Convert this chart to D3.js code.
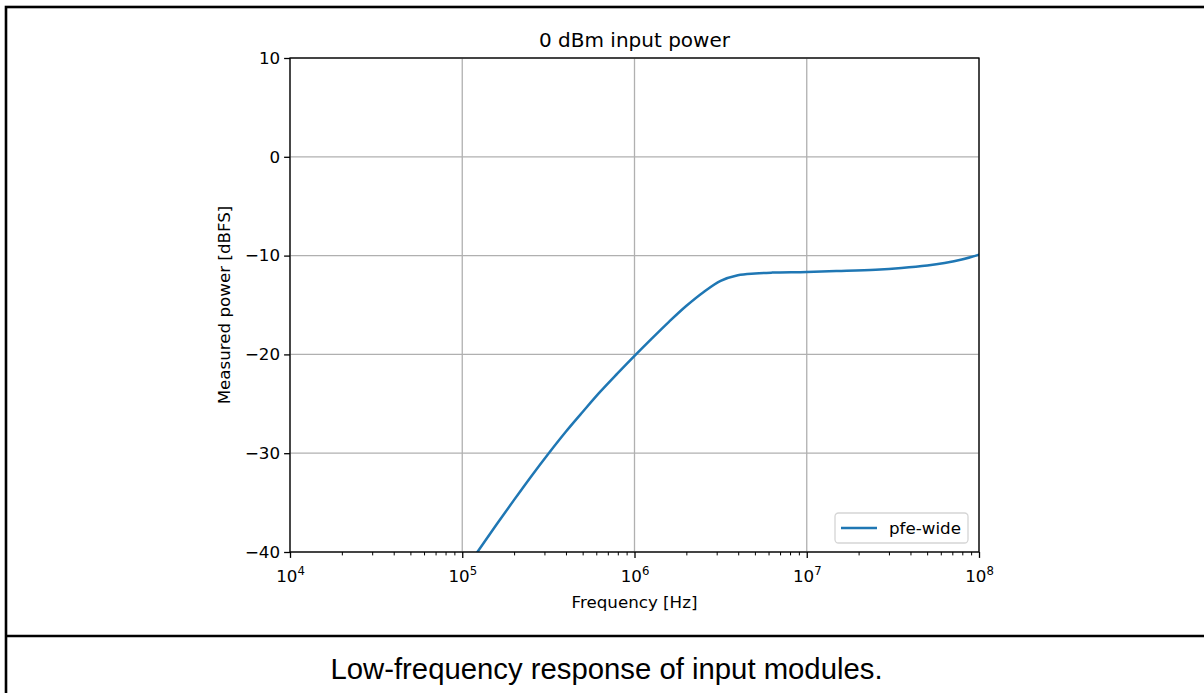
<!DOCTYPE html>
<html>
<head>
<meta charset="utf-8">
<script src="https://cdn.jsdelivr.net/npm/d3@7"></script>
<style>
  html, body { margin: 0; padding: 0; background: #fff; }
  svg { display: block; }
  text { font-family: "DejaVu Sans", sans-serif; fill: #000; }
</style>
</head>
<body>
<svg id="chart" width="1204" height="693"></svg>
<script>
// ---- data ----
const freqHz = [1.122e5, 1.259e5, 1.585e5, 1.995e5, 2.512e5, 3.162e5, 3.981e5, 5.012e5, 6.310e5, 7.943e5,
                1.0e6, 1.259e6, 1.585e6, 1.995e6, 2.512e6, 3.162e6, 3.981e6, 5.012e6, 6.310e6,
                1.0e7, 1.585e7, 2.512e7, 3.548e7, 5.012e7, 6.310e7, 7.943e7, 1.0e8];
const powerDb = [-40.95, -39.7, -37.2, -34.75, -32.35, -30.05, -27.85, -25.8, -23.8, -21.95,
                 -20.15, -18.4, -16.7, -15.1, -13.7, -12.55, -11.98, -11.8, -11.72,
                 -11.65, -11.55, -11.42, -11.25, -11.0, -10.75, -10.4, -9.9];
const seriesName = "pfe-wide";
const xTickExponents = [4, 5, 6, 7, 8];
const yTickValues = [-40, -30, -20, -10, 0, 10];
const titleText = "0 dBm input power";
const xLabelText = "Frequency [Hz]";
const yLabelText = "Measured power [dBFS]";
const captionText = "Low-frequency response of input modules.";

// ---- layout ----
const svg = d3.select("#chart");
const L = 290, R = 979, T = 58, B = 552;
const x = d3.scaleLog().domain([1e4, 1e8]).range([L, R]);
const y = d3.scaleLinear().domain([-40, 10]).range([B, T]);
const lineColor = "#1f77b4";
const fs = 16.7;

// frame
svg.append("rect").attr("x", 6).attr("y", 7).attr("width", 1220).attr("height", 720)
  .attr("fill", "none").attr("stroke", "#000").attr("stroke-width", 2.6);
svg.append("line").attr("x1", 6).attr("x2", 1204).attr("y1", 636).attr("y2", 636)
  .attr("stroke", "#000").attr("stroke-width", 2.6);

// grid
const grid = svg.append("g");
xTickExponents.forEach(e => {
  grid.append("line").attr("x1", x(Math.pow(10, e))).attr("x2", x(Math.pow(10, e)))
    .attr("y1", T).attr("y2", B).attr("stroke", "#b0b0b0").attr("stroke-width", 1.3);
});
yTickValues.forEach(v => {
  grid.append("line").attr("x1", L).attr("x2", R).attr("y1", y(v)).attr("y2", y(v))
    .attr("stroke", "#b0b0b0").attr("stroke-width", 1.3);
});

// clip
svg.append("clipPath").attr("id", "clip").append("rect")
  .attr("x", L).attr("y", T).attr("width", R - L).attr("height", B - T);

// line
const data = freqHz.map((f, i) => ({ f, v: powerDb[i] }));
svg.append("path").datum(data)
  .attr("clip-path", "url(#clip)")
  .attr("fill", "none").attr("stroke", lineColor).attr("stroke-width", 2.5)
  .attr("stroke-linejoin", "round").attr("stroke-linecap", "square")
  .attr("d", d3.line().x(d => x(d.f)).y(d => y(d.v)).curve(d3.curveCatmullRom.alpha(0.5)));

// minor ticks
const minorVals = [];
for (let e = 4; e < 8; e++) for (let m = 2; m <= 9; m++) minorVals.push(m * Math.pow(10, e));
const xMinor = svg.append("g").attr("transform", `translate(0,${B})`)
  .call(d3.axisBottom(x).tickValues(minorVals).tickSize(3.4).tickFormat(""));
xMinor.select(".domain").remove();
xMinor.selectAll("line").attr("stroke", "#000").attr("stroke-width", 1);

// major x ticks
const xMajor = svg.append("g").attr("transform", `translate(0,${B})`)
  .call(d3.axisBottom(x).tickValues(xTickExponents.map(e => Math.pow(10, e))).tickSize(5.9).tickFormat(""));
xMajor.select(".domain").remove();
xMajor.selectAll("line").attr("stroke", "#000").attr("stroke-width", 1.3);
xMajor.selectAll(".tick").each(function(d) {
  const e = Math.round(Math.log10(d));
  const t = d3.select(this).append("text")
    .attr("y", 30).attr("text-anchor", "middle")
    .style("font-size", fs + "px").style("font-family", "DejaVu Sans").attr("fill", "#000");
  t.append("tspan").text("10");
  t.append("tspan").attr("dy", -7).style("font-size", "11.7px").text(e);
});

// y ticks
const yAx = svg.append("g").attr("transform", `translate(${L},0)`)
  .call(d3.axisLeft(y).tickValues(yTickValues).tickSize(5.9).tickPadding(4)
    .tickFormat(v => (v < 0 ? "\u2212" + Math.abs(v) : String(v))));
yAx.select(".domain").remove();
yAx.selectAll("line").attr("stroke", "#000").attr("stroke-width", 1.3);
yAx.selectAll("text").style("font-size", fs + "px").style("font-family", "DejaVu Sans").attr("fill", "#000");

// spines
svg.append("rect").attr("x", L).attr("y", T).attr("width", R - L).attr("height", B - T)
  .attr("fill", "none").attr("stroke", "#000").attr("stroke-width", 1.3);

// legend
const lg = svg.append("g");
lg.append("rect").attr("x", 835).attr("y", 513).attr("width", 133).attr("height", 30)
  .attr("rx", 3.5).attr("fill", "#fff").attr("fill-opacity", 0.8)
  .attr("stroke", "#d5d5d5").attr("stroke-width", 1.3);
lg.append("line").attr("x1", 841).attr("x2", 877).attr("y1", 528).attr("y2", 528)
  .attr("stroke", lineColor).attr("stroke-width", 2.5);
lg.append("text").attr("x", 889).attr("y", 533.5).style("font-size", fs + "px").text(seriesName);

// title and labels
svg.append("text").attr("x", (L + R) / 2).attr("y", 47).attr("text-anchor", "middle")
  .style("font-size", "20px").text(titleText);
svg.append("text").attr("x", (L + R) / 2).attr("y", 607.5).attr("text-anchor", "middle")
  .style("font-size", fs + "px").text(xLabelText);
svg.append("text").attr("transform", `translate(230,${(T + B) / 2}) rotate(-90)`)
  .attr("text-anchor", "middle").style("font-size", fs + "px").text(yLabelText);

// caption
svg.append("text").attr("x", 606.5).attr("y", 679).attr("text-anchor", "middle")
  .style("font-family", "'Liberation Sans', Arial, sans-serif").style("font-size", "29.3px")
  .text(captionText);
</script>
</body>
</html>
